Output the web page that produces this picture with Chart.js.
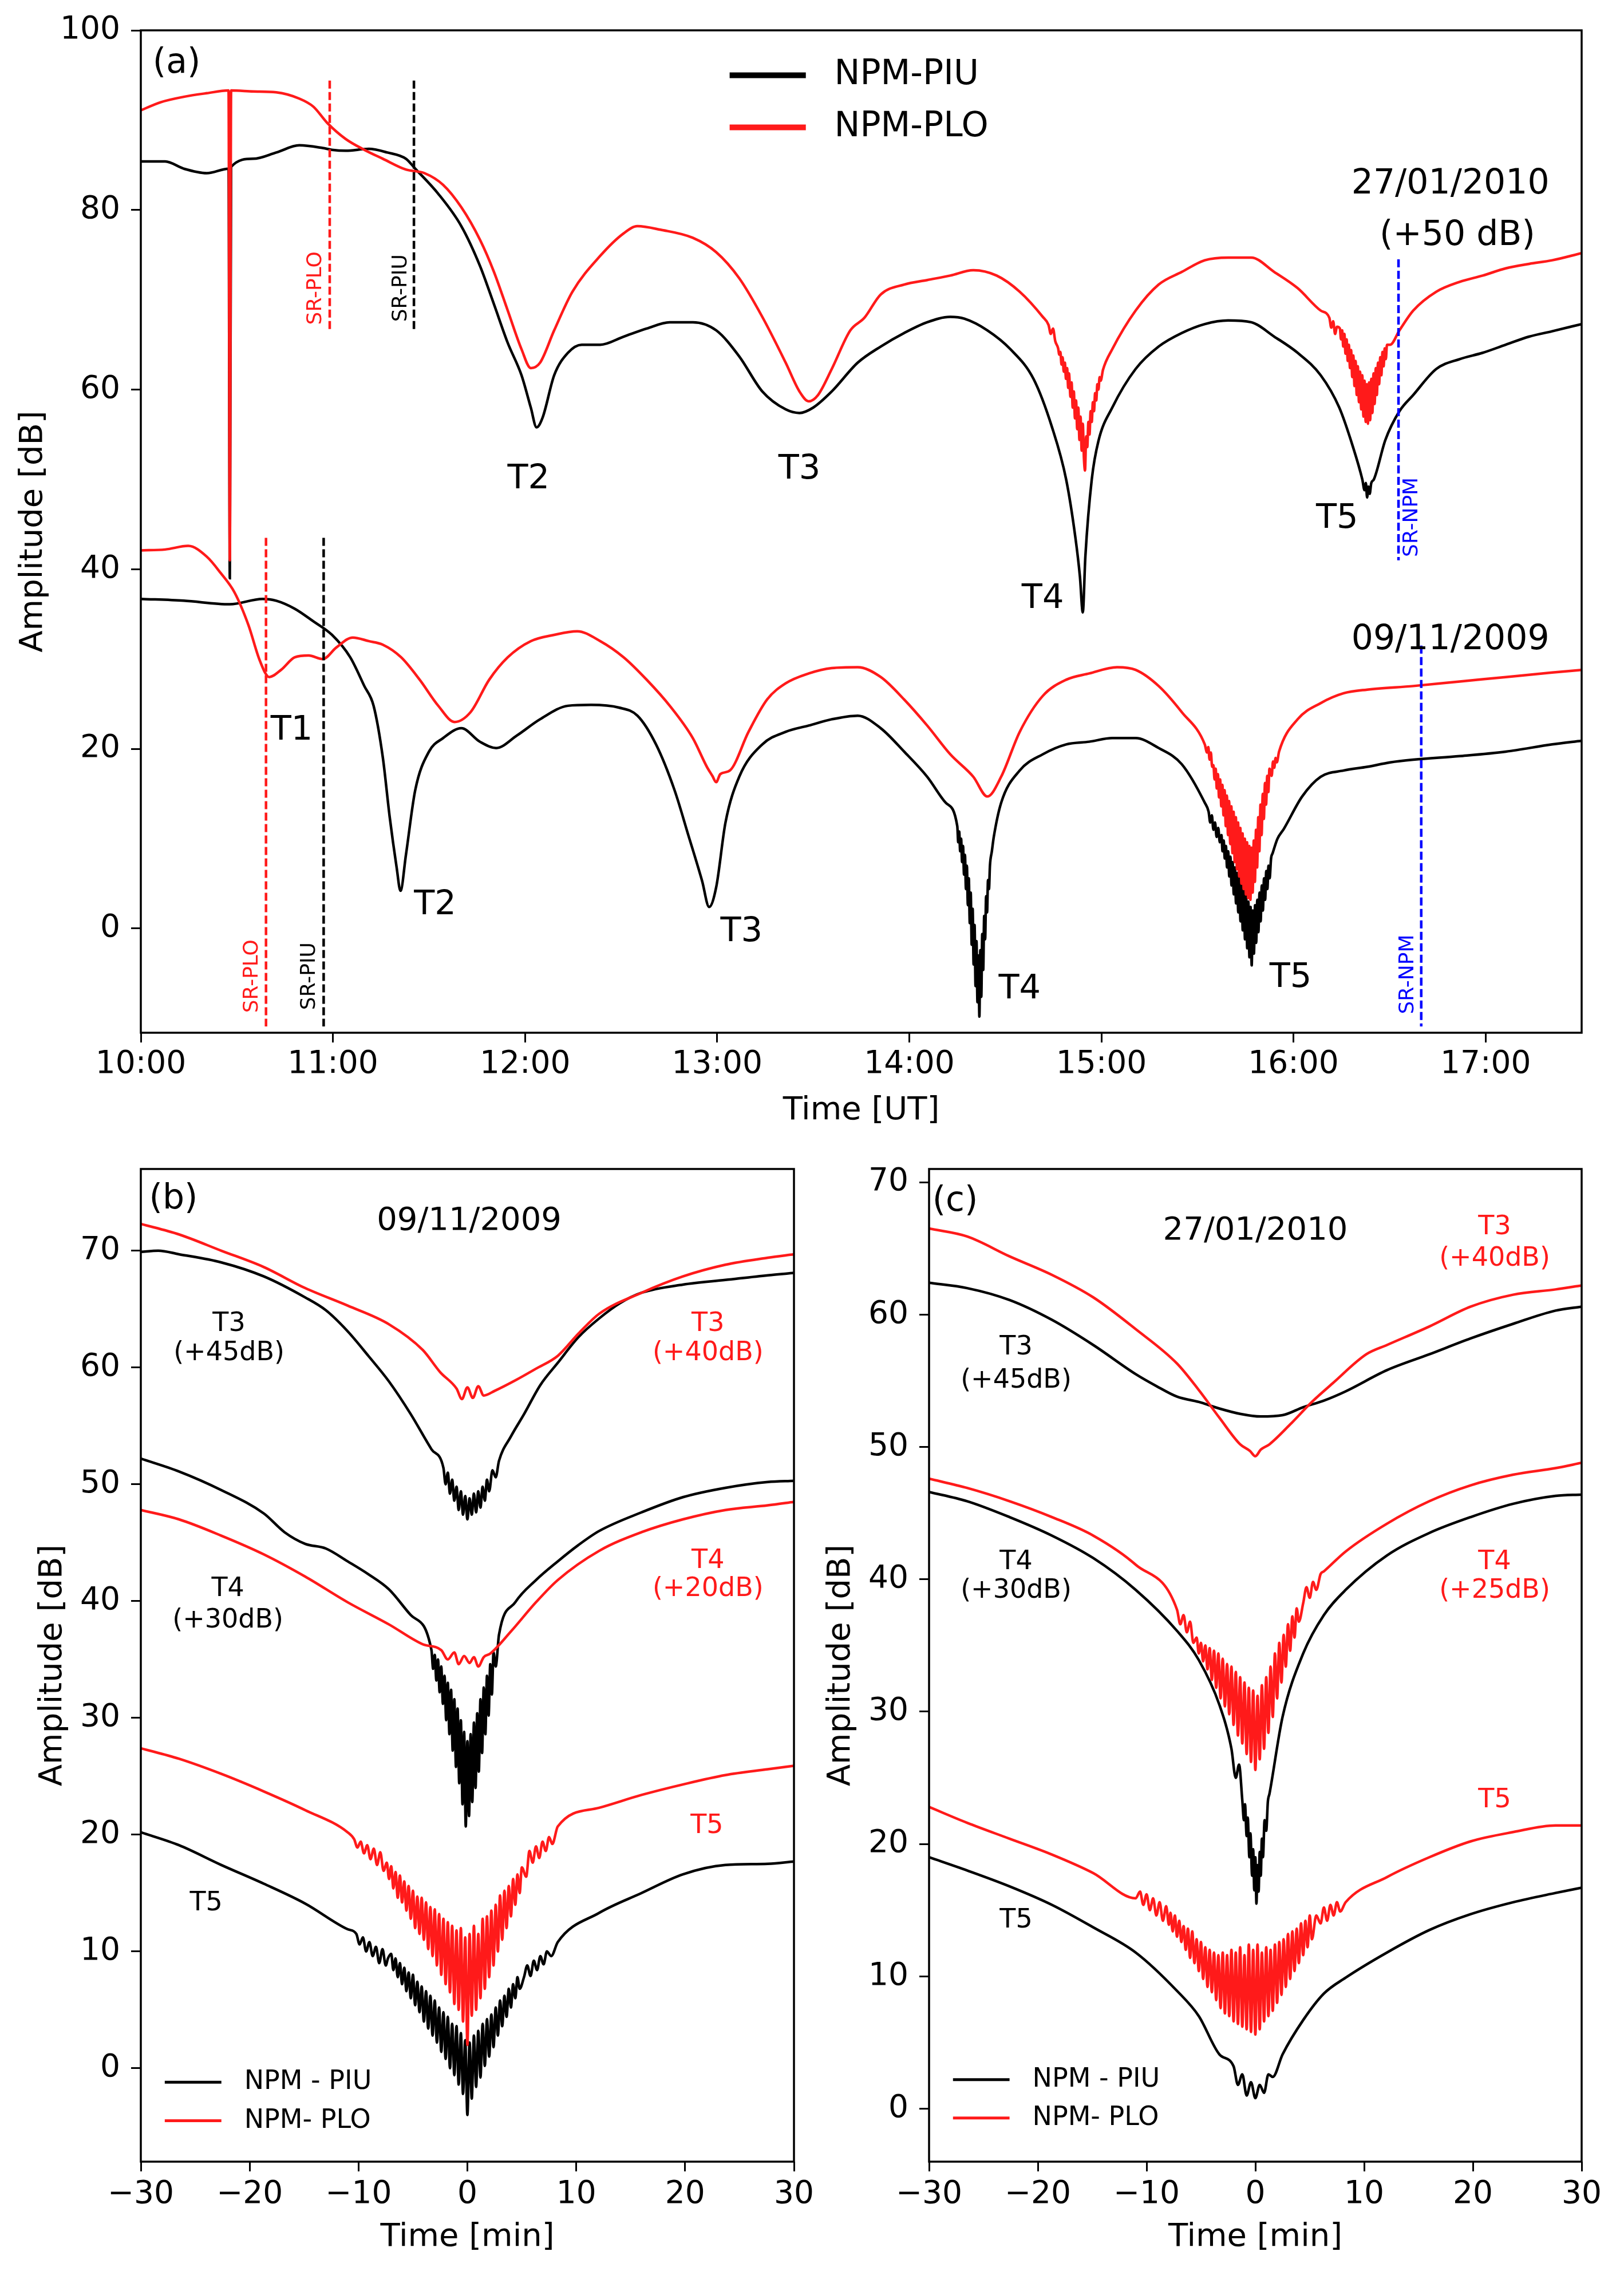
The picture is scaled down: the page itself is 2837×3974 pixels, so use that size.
<!DOCTYPE html>
<html>
<head>
<meta charset="utf-8">
<title>NPM-PIU / NPM-PLO amplitude</title>
<script src="https://cdn.jsdelivr.net/npm/chart.js@4.4.1/dist/chart.umd.min.js"></script>
<style>
  html, body { margin: 0; padding: 0; background: #fff; }
  body { width: 2837px; height: 3974px; position: relative; overflow: hidden; }
  .panel { position: absolute; }
  .panel canvas { display: block; }
</style>
</head>
<body>
<div class="panel" style="left:0;top:0;width:2837px;height:1990px"><canvas id="chartA"></canvas></div>
<div class="panel" style="left:0;top:1990px;width:1450px;height:1984px"><canvas id="chartB"></canvas></div>
<div class="panel" style="left:1400px;top:1990px;width:1437px;height:1984px"><canvas id="chartC"></canvas></div>
<script>
// ---- panel (a): [minutes after 10:00 UT, amplitude dB] ----
const janPiu = [[0,85.4],[7.6,85.4],[13.4,84.6],[20.6,84.1],[27.4,84.6],[27.8,39.0],[28.2,84.8],[35.1,85.7],[42.3,86.4],[49.5,87.2],[56.8,86.9],[59.7,86.7],[64,86.6],[71.2,86.8],[77,86.4],[82.8,85.7],[85.7,84.6],[92.9,81.8],[100.1,78.2],[105.9,73.8],[110.3,69.5],[114.6,65.2],[118.9,61.6],[121.8,58],[123.6,55.8],[125.5,56.9],[129.1,61.6],[133.4,64.1],[137.7,65],[143.5,65],[150.8,65.9],[158,66.8],[165.2,67.5],[172.4,67.5],[179.7,66.6],[186.9,63.7],[194.1,59.8],[201.4,57.8],[205.7,57.4],[210,58],[215.8,59.8],[223.9,63],[231.1,64.8],[238.4,66.3],[245.6,67.5],[252.8,68.1],[257.2,67.9],[264.4,66.6],[271.6,64.5],[278.8,61.2],[284.6,55.8],[289,50],[291.9,43.5],[293.3,39.2],[294.2,35.2],[295,41.4],[297,50],[299.1,54.3],[303.4,58],[310.7,62.3],[317.9,64.8],[325.1,66.3],[332.3,67.3],[339.6,67.7],[346.8,67.5],[354,65.9],[361.3,64.1],[368.5,61.6],[374.3,58],[378.6,53.6],[381.5,50],[382.2,48.8],[382.6,49.6],[383,48],[383.4,49.2],[383.8,48.4],[384.3,49.6],[385.1,50],[388.7,54.4],[393.1,57.6],[397.4,59.4],[404.6,62.3],[411.9,63.4],[419.1,64.1],[426.3,65],[433.6,65.9],[440.8,66.5],[450,67.3]];

const janPlo = [[0,91.1],[6.2,92],[13.4,92.6],[20.6,93],[27.4,93.3],[27.8,41.0],[28.2,93.3],[35.1,93.2],[42.3,93.1],[49.5,92.4],[53.9,91.5],[58.2,89.7],[64,87.9],[69.8,86.7],[75.6,85.7],[82.8,84.5],[88.6,84.1],[94.4,82.8],[100.1,80.3],[105.9,76.7],[110.3,73.1],[114.6,68.8],[118.9,64.5],[121.8,62.4],[124.7,63],[129.1,66.6],[134.8,70.9],[143.5,74.9],[150.8,77.4],[155.1,78.2],[162.3,77.8],[172.4,76.9],[179.7,75.3],[186.9,72.4],[194.1,68.1],[201.4,63],[205.7,59.8],[208.6,58.7],[211.5,59.4],[215.8,62.3],[221.6,66.6],[226,68],[231.1,70.6],[238.4,71.7],[245.6,72.2],[252.8,72.7],[260,73.3],[267.3,72.7],[274.5,70.9],[281.7,68.1],[283.5,67.2],[284.2,66.2],[284.9,66.8],[285.6,65.4],
  [286.5,64.6],[286.85,63.9],[287.2,64.2],[287.55,62.8],[287.9,63.6],[288.25,62],[288.6,63],[288.95,61.2],[289.3,62.4],[289.65,60.2],[289.9,61.8],[290.35,59.2],[290.7,60.8],[291.05,58],[291.4,59.8],[291.75,56.8],[292.1,58.8],[292.45,55.6],[292.8,58],[293.15,54.4],[293.5,57],[293.85,53.2],[294.2,56.2],[294.55,52.4],[294.9,51],[295.25,54.8],[295.6,53.6],[295.95,56.4],[296.3,55],[296.65,57.6],[297,56.4],[297.35,58.6],[297.7,57.6],[298.05,59.6],[298.4,58.8],[298.75,60.6],[299.1,60],[299.45,61.4],[299.8,61],[300.5,62.2],
  [303.4,64.5],[310.7,68.8],[317.9,71.7],[325.1,73.1],[332.3,74.4],[339.6,74.7],[346.8,74.7],[354,73.1],[361.3,71.3],[368.5,68.8],[371.2,68],[371.8,66.9],[372.4,67.6],[373,66.2],[373.6,67],
  [374.5,66.8],[374.85,65.6],[375.2,66.6],[375.55,64.8],[375.9,66.2],[376.25,64],[376.6,65.6],[376.95,63.2],[377.3,65],[377.65,62.4],[378,64.4],[378.35,61.4],[378.7,63.8],[379.05,60.4],[379.4,63.2],[379.75,59.4],[380.1,62.6],[380.45,58.6],[380.8,62],[381.15,57.8],[381.5,61.6],[381.85,57],[382.2,61],[382.55,56.4],[382.9,60.6],[383.25,56.2],[383.6,60.8],[383.95,56.6],[384.3,61.2],[384.65,57.4],[385,61.8],[385.35,58.4],[385.7,62.4],[386.05,59.4],[386.4,63],[386.75,60.6],[387.1,63.6],[387.45,61.6],[387.8,64.2],[388.15,62.6],[388.5,64.6],[388.85,63.4],[389.2,65],[390.2,65],
  [393.1,66.6],[397.4,68.8],[404.6,70.9],[411.9,72],[419.1,72.7],[426.3,73.5],[433.6,74],[440.8,74.4],[450,75.2]];

const novPiu = [[0,36.7],[13.4,36.5],[27.8,36.1],[38,36.7],[42.3,36.5],[48.1,35.6],[53.9,34.2],[59.7,32.7],[65.4,30.2],[69.8,27],[72.7,24.8],[75.6,19],[77.7,12.5],[79.9,6.8],[81.1,4.2],[82.8,8.2],[85.7,15.4],[90,19.7],[94.4,21.2],[100.1,22.3],[105.9,20.8],[111,20.1],[117.5,21.5],[124.7,23.3],[133.4,24.8],[140.6,24.9],[149.3,24.6],[155.1,23.7],[160.9,20.5],[166.7,15.4],[171,10.4],[175.3,5.3],[177.5,2.4],[179.7,4.6],[182.6,11.8],[186.9,16.9],[194.1,20.5],[201.4,21.9],[208.6,22.6],[215.8,23.3],[223.9,23.7],[231.1,22.3],[238.4,19.7],[245.6,16.9],[251.4,14],
  [255,11.4],[255.3,9.6],[255.6,10.8],[255.9,8.6],[256.2,10],[256.5,7.4],[256.8,9.2],[257.1,6],[257.4,8.2],[257.7,4.4],[258,7],[258.3,2.6],[258.6,5.6],[258.9,0.6],[259.2,4],[259.5,-1.8],[259.8,2.2],[260.1,-4],[260.4,0.4],[260.7,-6.4],[261,-1.4],[261.3,-8.2],[261.6,-3],[261.9,-9.8],[262.2,-2.4],[262.5,-7.6],[262.8,-0.6],[263.1,-4.6],[263.4,1.4],[263.7,-1.2],[264,3.6],[264.3,1.8],[264.6,5.4],[264.9,4.4],[265.2,7],[265.8,8.6],[266.4,10.2],
  [268.7,14],[274.5,17.6],[281.7,19.4],[289,20.5],[296.2,20.8],[303.4,21.2],[310.7,21.2],[317.9,20.1],[325.1,18.3],[332.3,14],[333.5,13],[334,11.8],[334.5,12.6],[335,11],[335.5,11.8],[336,10.2],[336.5,11.2],[337,9.6],
  [337.5,10.4],[337.85,8.6],[338.2,9.8],[338.55,7.8],[338.9,9.2],[339.25,6.8],[339.6,8.6],[339.95,5.8],[340.3,8],[340.65,4.8],[341,7.4],[341.35,3.8],[341.7,6.8],[342.05,2.8],[342.4,6.2],[342.75,1.8],[343.1,5.6],[343.45,0.8],[343.8,5],[344.15,-0.2],[344.5,4.4],[344.85,-1.2],[345.2,3.8],[345.55,-2.2],[345.9,3],[346.25,-3.2],[346.6,2.4],[346.95,-4.1],[347.3,2],[347.65,-2.8],[348,2.6],[348.35,-1.6],[348.7,3.2],[349.05,-0.4],[349.4,4],[349.75,0.8],[350.1,4.8],[350.45,2],[350.8,5.6],[351.15,3.2],[351.5,6.4],[351.85,4.4],[352.2,7],[352.55,5.6],[353,7.8],[353.5,8.4],[355,10],
  [357,11.1],[362.7,14.7],[368.5,16.9],[375.7,17.6],[383,18],[390.2,18.5],[397.4,18.8],[411.9,19.2],[426.3,19.7],[440.8,20.5],[450,20.9]];

const novPlo = [[0,42.1],[7.6,42.2],[14.8,42.6],[20.6,41.4],[24.9,39.6],[29.3,37.4],[33.6,33.8],[37.2,29.8],[40.1,28],[43.8,28.8],[48.1,30.2],[52.4,30.4],[56.8,30],[61.1,31.3],[66.2,32.4],[71.2,32],[75.6,31.6],[81.3,30.2],[87.1,27.7],[92.9,24.8],[98,23],[103,24.1],[108.8,27.7],[114.6,30.2],[121.8,32],[129.1,32.7],[136.3,33.1],[143.5,32],[150.8,30.2],[158,27.7],[165.2,24.8],[172.4,21.2],[176.8,18],[178.5,17],[179.7,16.3],[181,17.2],[184,17.6],[189.8,21.9],[195.6,25.5],[201.4,27.3],[208.6,28.4],[215.8,29],[223.9,29.1],[231.1,28],[238.4,25.5],[245.6,22.6],[252.8,19.4],[260,16.9],[264.4,14.7],[268.7,16.9],[274.5,21.9],[281.7,25.9],[289,27.7],[296.2,28.4],[304.9,29.1],[310.7,28.8],[317.9,27],[325.1,24.1],[332.3,20.5],[333,19.6],[333.4,20.2],[333.8,18.8],[334.2,19.6],[334.6,18],
  [335,18.2],[335.35,16.6],[335.7,17.8],[336.05,15.6],[336.4,17.2],[336.75,14.6],[337.1,16.6],[337.45,13.6],[337.8,16],[338.15,12.6],[338.5,15.4],[338.85,11.4],[339.2,14.8],[339.55,10.4],[339.9,14.2],[340.25,9.4],[340.6,13.6],[340.95,8.4],[341.3,13],[341.65,7.4],[342,12.4],[342.35,6.6],[342.7,11.8],[343.05,5.8],[343.4,11.2],[343.75,5],[344.1,10.6],[344.45,4.4],[344.8,10],[345.15,3.8],[345.5,9.6],[345.85,3.4],[346.2,9.2],[346.55,3.2],[346.9,9],[347.25,4],[347.6,9.8],[347.95,5.2],[348.3,11],[348.65,6.8],[349,12.4],[349.35,8.6],[349.7,13.8],[350.05,10.4],[350.4,15],[350.75,12.2],[351.1,16.2],[351.45,13.8],[351.8,17],[352.15,15.2],[352.5,17.8],[353.2,17],[353.6,18.6],[354,17.9],[354.4,19],[354.8,18.5],
  [355.5,19.7],[361.3,23.3],[368.5,25.1],[375.7,26.2],[383,26.6],[397.4,27],[411.9,27.5],[426.3,28],[440.8,28.5],[450,28.8]];

// sunrise markers (a): time, top and bottom of each dashed line
const srMin = [59.0, 85.3, 39.1, 57.1, 392.8, 399.9];
const srTopDb = [94.4, 94.4, 43.5, 43.5, 74.5, 31.5];
const srBottomDb = [66.6, 66.6, -10.9, -10.9, 41.0, -10.9];

// ---- panel (b) 09/11/2009: [minutes around terminator, dB] ----
const bT3Piu = [[-30,69.9],[-28.4,70],[-26.5,69.7],[-22.6,69],[-18.7,67.8],[-14.9,66],[-13,64.9],[-11,63.1],[-9.1,61],[-7.2,58.8],[-5.2,56],[-3.3,53],
  [-2.2,51.4],[-2,50],[-1.8,51],[-1.6,49.2],[-1.4,50.4],[-1.2,48.6],[-1,49.8],[-0.8,47.8],[-0.6,49.4],[-0.4,47.4],[-0.2,49],[0,47],[0.2,48.8],[0.4,47.4],[0.6,49.2],[0.8,47.6],[1,49.4],[1.2,48],[1.4,49.8],[1.6,48.6],[1.8,50.4],[2,49.4],[2.3,51.2],[2.6,50.6],[2.9,52],
  [4,54.1],[5.2,56],[6.7,58.5],[8.3,60.4],[10.2,62.6],[12.1,64.2],[14,65.5],[16,66.4],[19.8,67.1],[23.7,67.5],[27.6,67.9],[30,68.1]];
const bT3Plo = [[-30,72.3],[-26.5,71.4],[-22.6,70],[-18.7,68.6],[-14.9,66.8],[-11,65.3],[-7.2,63.7],[-4.1,61.5],[-2.5,59.6],[-1,58.2],[-0.5,57.3],[0,58.3],[0.5,57.4],[1,58.4],[1.5,57.6],[2.5,58],[4.4,58.9],[6.3,59.9],[8.3,61],[10.2,62.9],[12.1,64.6],[16,66.4],[19.8,67.8],[23.7,68.8],[27.6,69.4],[30,69.7]];
const bT4Piu = [[-30,52.2],[-26.5,51.1],[-22.6,49.5],[-18.7,47.5],[-16.8,45.9],[-14.9,44.9],[-13,44.5],[-11,43.4],[-9.1,42.3],[-7.2,41],[-5.2,38.8],
  [-3.3,35.8],[-3.15,34.2],[-3,35.4],[-2.85,33.2],[-2.7,35],[-2.55,32.2],[-2.4,34.4],[-2.25,31.2],[-2.1,33.6],[-1.95,29.8],[-1.8,33],[-1.65,28.6],[-1.5,32.4],[-1.35,27.2],[-1.2,31.6],[-1.05,25.8],[-0.9,30.8],[-0.75,24.4],[-0.6,29.8],[-0.45,22.6],[-0.3,28.8],[-0.15,20.7],[0,28],[0.15,21.6],[0.3,28.6],[0.45,22.8],[0.6,29.6],[0.75,24],[0.9,30.4],[1.05,25.4],[1.2,31.6],[1.35,27],[1.5,32.6],[1.65,28.6],[1.8,33.6],[1.95,30.2],[2.1,34.6],[2.25,32],[2.4,35.6],[2.6,34.4],[2.9,37.1],
  [4.4,39.9],[6.3,41.8],[8.3,43.4],[10.2,44.8],[12.1,46],[16,47.6],[19.8,48.9],[23.7,49.7],[27.6,50.2],[30,50.3]];
const bT4Plo = [[-30,47.8],[-26.5,47],[-22.6,45.6],[-18.7,44],[-14.9,42.1],[-11,39.9],[-7.2,38],[-4.1,36.3],[-2.4,35.8],[-1.8,35],[-1.2,35.6],[-0.8,34.6],[-0.3,35.3],[0.2,34.7],[0.6,35.2],[1,34.4],[1.5,35.2],[2.1,35.5],[4,37.4],[6.3,39.9],[8.3,41.8],[12.1,44.3],[16,45.9],[19.8,47],[23.7,47.8],[27.6,48.2],[30,48.5]];
const bT5Plo = [[-30,27.4],[-26.5,26.5],[-22.6,25.2],[-18.7,23.7],[-14.9,22.1],[-11,20.2],
  [-10.4,19.6],[-10.1,18.9],[-9.8,19.4],[-9.5,18.4],[-9.2,19.1],[-8.9,17.9],[-8.6,18.8],[-8.3,17.4],[-8,18.5],[-7.7,16.9],
  [-7.4,17.6],[-7.2,16.2],[-7,17.3],[-6.8,15.4],[-6.6,16.8],[-6.4,14.6],[-6.2,16.5],[-6,14.2],[-5.8,16],[-5.6,13.5],[-5.4,15.6],[-5.2,12.8],[-5,15.2],[-4.8,12],[-4.6,14.7],[-4.4,11.5],[-4.2,14.6],[-4,11],[-3.8,14.2],[-3.6,10.2],[-3.4,13.8],[-3.2,9.6],[-3,13.6],[-2.8,8.8],[-2.6,13.2],[-2.4,8],[-2.2,12.8],[-2,7.2],[-1.8,12.5],[-1.6,6.5],[-1.4,12.2],[-1.2,5.5],[-1,11.8],[-0.8,5],[-0.6,12],[-0.4,4],[-0.2,11.2],[0,2],[0.2,11.5],[0.4,4.5],[0.6,12.2],[0.8,5],[1,11.5],[1.2,6],[1.4,12.8],[1.6,6.8],[1.8,13],[2,7.8],[2.2,13.5],[2.4,8.8],[2.6,14],[2.8,10],[3,14.8],[3.2,11],[3.4,15.2],[3.6,12],[3.8,15.6],[4,13],[4.2,16.2],[4.4,14],[4.6,16.6],[4.8,15],[5,17.2],[5.4,16.4],
  [5.7,18.6],[6,17.6],[6.3,19],[6.6,18],[6.9,19.4],[7.2,18.6],[7.5,19.8],[7.8,19.2],
  [8.3,20.7],[12.1,22.3],[16,23.4],[19.8,24.3],[23.7,25.1],[27.6,25.6],[30,25.9]];
const bT5Piu = [[-30,20.2],[-26.5,19.1],[-22.6,17.4],[-18.7,15.8],[-14.9,14.1],[-11,11.9],
  [-10.2,11.5],[-9.9,10.6],[-9.6,11.2],[-9.3,10],[-9,10.8],[-8.7,9.6],[-8.4,10.4],[-8.1,9],[-7.8,10.2],[-7.5,8.8],[-7.3,9.4],
  [-7,9.8],[-6.8,8.4],[-6.6,9.4],[-6.4,7.8],[-6.2,9],[-6,7.2],[-5.8,8.6],[-5.6,6.6],[-5.4,8.2],[-5.2,6],[-5,8],[-4.8,5.4],[-4.6,7.4],[-4.4,4.8],[-4.2,7],[-4,4],[-3.8,6.6],[-3.6,3.4],[-3.4,6.2],[-3.2,2.8],[-3,5.8],[-2.8,2.2],[-2.6,5.2],[-2.4,1.4],[-2.2,4.8],[-2,0.8],[-1.8,4.4],[-1.6,0],[-1.4,3.8],[-1.2,-0.6],[-1,3.6],[-0.8,-1.4],[-0.6,3],[-0.4,-2.2],[-0.2,2.4],[0,-4],[0.2,2.2],[0.4,-2.6],[0.6,2.8],[0.8,-1.6],[1,3.2],[1.2,-0.8],[1.4,3.8],[1.6,0.2],[1.8,4.2],[2,1],[2.2,4.6],[2.4,1.8],[2.6,5.2],[2.8,2.8],[3,5.8],[3.2,3.6],[3.4,6.2],[3.6,4.4],[3.8,6.8],[4,5.2],[4.2,7.2],[4.4,6],[4.6,7.8],[4.8,6.8],[5.2,7.8],
  [5.5,8.8],[5.8,7.9],[6.1,9.2],[6.4,8.4],[6.7,9.6],[7,8.9],[7.3,10],[7.7,9.6],
  [8.3,10.8],[12.1,13.3],[16,15],[19.8,16.6],[23.7,17.4],[27.6,17.5],[30,17.7]];

// ---- panel (c) 27/01/2010 ----
const cT3Piu = [[-30,62.4],[-26.5,62],[-22.6,61.1],[-18.7,59.6],[-14.9,57.7],[-11,55.5],[-9.1,54.6],[-7.2,53.8],[-5.2,53.4],[-3.3,52.9],[-1.4,52.5],[0.5,52.3],[2.5,52.4],[4.4,53],[6.3,53.5],[8.3,54.2],[12.1,55.8],[16,57],[19.8,58.2],[23.7,59.3],[27.6,60.3],[30,60.6]];
const cT3Plo = [[-30,66.5],[-26.5,65.9],[-22.6,64.4],[-18.7,63],[-14.9,61.3],[-11,58.9],[-7.2,56.3],[-5.2,54.3],[-3.3,52.2],[-1.4,50.2],[-0.5,49.7],[0,49.3],[0.5,49.8],[1.3,50.2],[3.2,51.7],[5.2,53.4],[7.1,54.8],[10.2,57],[12.1,57.7],[16,59.1],[19.8,60.6],[23.7,61.5],[27.6,61.9],[30,62.2]];
const cT4Plo = [[-30,47.6],[-26.5,46.9],[-22.6,45.9],[-18.7,44.7],[-14.9,43.3],[-11,41.1],[-7.2,37.7],[-6.9,36.6],[-6.6,37.3],[-6.3,36],[-6,36.8],[-5.7,35.2],
  [-5.4,35.6],[-5.2,34.4],[-5,35.2],[-4.8,33.8],[-4.6,35],[-4.4,33.2],[-4.2,34.8],[-4,32.4],[-3.8,34.6],[-3.6,31.8],[-3.4,34.4],[-3.2,31],[-3,34],[-2.8,30.4],[-2.6,33.6],[-2.4,29.8],[-2.2,33.4],[-2,29],[-1.8,33],[-1.6,28.2],[-1.4,32.6],[-1.2,27.6],[-1,32.2],[-0.8,26.8],[-0.6,31.8],[-0.4,26.2],[-0.2,31.6],[0,25.6],[0.2,31.2],[0.4,26.4],[0.6,32],[0.8,27.2],[1,32.6],[1.2,28.4],[1.4,33.4],[1.6,29.6],[1.8,34.4],[2,31],[2.2,35.2],[2.4,32.2],[2.6,35.8],[2.8,33.4],[3,36.6],[3.2,34.6],[3.4,37.2],[3.6,35.6],[3.8,37.8],[4,36.8],[4.4,38.2],
  [4.7,39.4],[5,38.6],[5.3,39.8],[5.6,39.2],[6,40.4],[6.3,40.6],[8.3,42.1],[12.1,44.2],[16,45.9],[19.8,47.1],[23.7,47.9],[27.6,48.4],[30,48.8]];
const cT4Piu = [[-30,46.6],[-26.5,45.9],[-22.6,44.7],[-18.7,43.3],[-14.9,41.6],[-11,39.2],[-7.2,36.1],[-5.2,33.9],[-3.3,30.5],[-2.2,27.2],[-1.8,25],[-1.5,26],
  [-1.2,23.3],[-1.05,21.8],[-0.95,23],[-0.8,20.6],[-0.7,22],[-0.55,19],[-0.45,20.8],[-0.3,17.6],[-0.2,19.6],[-0.1,16.5],[0,19],[0.1,15.5],[0.2,18.4],[0.3,16.4],[0.4,19.4],[0.5,17.6],[0.6,20.4],[0.7,19],[0.85,21.8],[1,21],[1.15,23.2],[1.3,23.8],
  [2.5,29.6],[4.4,34.4],[6.3,37.3],[8.3,39.2],[12.1,41.8],[16,43.5],[19.8,44.7],[23.7,45.7],[27.6,46.3],[30,46.4]];
const cT5Plo = [[-30,22.8],[-26.5,21.6],[-22.6,20.4],[-18.7,19.2],[-14.9,17.8],[-11,15.9],
  [-10.6,16.4],[-10.3,15.4],[-10,16.2],[-9.7,15],[-9.4,15.9],[-9.1,14.6],[-8.8,15.6],[-8.5,14.2],[-8.2,15.3],[-7.95,13.9],
  [-7.8,14.8],[-7.6,13.4],[-7.4,14.6],[-7.2,13],[-7,14.2],[-6.8,12.6],[-6.6,13.8],[-6.4,12],[-6.2,13.6],[-6,11.4],[-5.8,13.4],[-5.6,11],[-5.4,12.8],[-5.2,10.4],[-5,12.6],[-4.8,9.8],[-4.6,12.2],[-4.4,9.2],[-4.2,12],[-4,8.8],[-3.8,11.8],[-3.6,8.2],[-3.4,11.6],[-3.2,7.6],[-3,11.8],[-2.8,7.2],[-2.6,11.6],[-2.4,7],[-2.2,12],[-2,6.6],[-1.8,11.8],[-1.6,6.4],[-1.4,12.2],[-1.2,6.2],[-1,11.6],[-0.8,6],[-0.6,12.4],[-0.4,5.8],[-0.2,12],[0,5.6],[0.2,12.4],[0.4,6],[0.6,11.8],[0.8,6.6],[1,12.2],[1.2,7],[1.4,12],[1.6,7.4],[1.8,12.4],[2,8],[2.2,12.6],[2.4,8.6],[2.6,12.8],[2.8,9.2],[3,13.2],[3.2,9.8],[3.4,13.4],[3.6,10.4],[3.8,13.6],[4,11],[4.2,14],[4.4,11.6],[4.6,14.2],[4.8,12.2],[5,14.6],[5.2,12.8],[5.6,14.6],[6,14],
  [6.3,15.2],[6.6,14.2],[6.9,15.4],[7.2,14.6],[7.5,15.6],[7.8,14.9],
  [8.3,15.6],[12.1,17.5],[16,19],[19.8,20.2],[23.7,20.9],[27.6,21.4],[30,21.4]];
const cT5Piu = [[-30,19],[-26.5,18],[-22.6,16.8],[-18.7,15.4],[-14.9,13.7],[-11,11.8],[-7.2,8.9],[-5.2,7],[-3.3,4.1],[-2,3.2],[-1.6,1.8],[-1.2,2.6],[-0.8,1],[-0.4,2],[0,0.8],[0.4,1.8],[0.8,1.2],[1.2,2.6],[1.6,2.4],[2.5,4.1],[4.4,6.7],[6.3,8.7],[8.3,9.9],[12.1,11.8],[16,13.5],[19.8,14.7],[23.7,15.6],[27.6,16.3],[30,16.7]];

const FONT = 'DejaVu Sans';
const BLACK = '#000000';
const RED = '#ff1a1a';
const BLUE = '#0000ff';
Chart.defaults.font.family = FONT;

function series(points, color) {
  return {
    data: points.map(p => ({ x: p[0], y: p[1] })),
    borderColor: color, borderWidth: 4.5, pointRadius: 0,
    cubicInterpolationMode: 'monotone', fill: false
  };
}

function srLine(i, color) {
  return {
    data: [{ x: srMin[i], y: srTopDb[i] }, { x: srMin[i], y: srBottomDb[i] }],
    borderColor: color, borderWidth: 4.5, borderDash: [14, 6], pointRadius: 0, fill: false
  };
}

const minusFmt = v => (v < 0 ? '\u2212' + (-v) : String(v));

function axes(o) {
  const tickFont = { family: FONT, size: 55 };
  const grid = { display: true, drawOnChartArea: false, drawTicks: true, tickLength: 17, tickWidth: 3, tickColor: BLACK };
  return {
    x: {
      type: 'linear', min: o.xMin, max: o.xMax,
      afterFit: s => { s.height = o.xH; },
      border: { display: false }, grid,
      ticks: { stepSize: o.xStep, includeBounds: false, autoSkip: false, maxRotation: 0, minRotation: 0,
               padding: o.xPad, color: BLACK, font: tickFont, callback: o.xFmt }
    },
    y: {
      type: 'linear', min: o.yMin, max: o.yMax,
      afterFit: s => { s.width = o.yW; },
      border: { display: false }, grid,
      ticks: { stepSize: o.yStep, includeBounds: false, autoSkip: false, padding: 19, color: BLACK, font: tickFont }
    }
  };
}

// texts, legend, frame and axis titles
function overlay(cfg) {
  return {
    id: 'overlay',
    afterDraw(chart) {
      const { ctx, chartArea: a } = chart;
      const sx = chart.scales.x, sy = chart.scales.y;
      ctx.save();
      ctx.textBaseline = 'middle';

      cfg.texts.forEach(d => {
        ctx.save();
        ctx.translate(sx.getPixelForValue(d.x), sy.getPixelForValue(d.y));
        if (d.rot) ctx.rotate(-Math.PI / 2);
        ctx.font = `${d.size}px "${FONT}"`;
        ctx.fillStyle = d.color || BLACK;
        ctx.textAlign = 'center';
        ctx.fillText(d.text, 0, 0);
        ctx.restore();
      });

      const lg = cfg.legend;
      lg.items.forEach(it => {
        const yy = sy.getPixelForValue(it.y);
        ctx.strokeStyle = it.color;
        ctx.lineWidth = lg.width;
        ctx.beginPath();
        ctx.moveTo(sx.getPixelForValue(lg.x0), yy);
        ctx.lineTo(sx.getPixelForValue(lg.x1), yy);
        ctx.stroke();
        ctx.font = `${lg.size}px "${FONT}"`;
        ctx.fillStyle = BLACK;
        ctx.textAlign = 'left';
        ctx.fillText(it.text, sx.getPixelForValue(lg.tx), yy);
      });

      ctx.strokeStyle = BLACK;
      ctx.lineWidth = 3.5;
      ctx.strokeRect(a.left, a.top, a.right - a.left, a.bottom - a.top);

      ctx.font = `56px "${FONT}"`;
      ctx.fillStyle = BLACK;
      ctx.textAlign = 'center';
      ctx.fillText(cfg.xTitle, (a.left + a.right) / 2, cfg.xTitleY);
      ctx.save();
      ctx.translate(cfg.yTitleX, (a.top + a.bottom) / 2);
      ctx.rotate(-Math.PI / 2);
      ctx.fillText('Amplitude [dB]', 0, 0);
      ctx.restore();
      ctx.restore();
    }
  };
}

const baseOptions = {
  responsive: true, maintainAspectRatio: false, animation: false, events: [],
  plugins: { legend: { display: false }, tooltip: { enabled: false } }
};

// ---------- panel (a) ----------
new Chart(document.getElementById('chartA'), {
  type: 'line',
  data: {
    datasets: [
      srLine(0, RED), srLine(1, BLACK), srLine(2, RED), srLine(3, BLACK), srLine(4, BLUE), srLine(5, BLUE),
      series(janPlo, RED), series(novPlo, RED),
      series(janPiu, BLACK), series(novPiu, BLACK)
    ]
  },
  options: {
    ...baseOptions,
    layout: { padding: { top: 53, right: 74, left: 0, bottom: 0 } },
    scales: axes({ xMin: 0, xMax: 450, xStep: 60, xH: 186, xPad: 6, yMin: -11.6, yMax: 100, yStep: 20, yW: 246,
                   xFmt: v => (10 + v / 60) + ':00' })
  },
  plugins: [overlay({
    xTitle: 'Time [UT]', xTitleY: 1940, yTitleX: 58,
    texts: [
      { text: '(a)', x: 11.2, y: 96.3, size: 60 },
      { text: 'T2', x: 121.1, y: 50.0, size: 59 },
      { text: 'T3', x: 205.7, y: 51.1, size: 59 },
      { text: 'T4', x: 281.7, y: 36.7, size: 59 },
      { text: 'T5', x: 373.6, y: 45.6, size: 59 },
      { text: '27/01/2010', x: 409.0, y: 82.8, size: 60 },
      { text: '(+50 dB)', x: 411.2, y: 77.1, size: 60 },
      { text: '09/11/2009', x: 409.0, y: 32.1, size: 60 },
      { text: 'T1', x: 47.1, y: 22.0, size: 59 },
      { text: 'T2', x: 91.9, y: 2.6, size: 59 },
      { text: 'T3', x: 187.6, y: -0.4, size: 59 },
      { text: 'T4', x: 274.5, y: -6.8, size: 59 },
      { text: 'T5', x: 359.1, y: -5.5, size: 59 },
      { text: 'SR-PLO', x: 54.6, y: 71.3, size: 36, rot: true, color: RED },
      { text: 'SR-PIU', x: 81.3, y: 71.3, size: 36, rot: true },
      { text: 'SR-PLO', x: 34.8, y: -5.3, size: 36, rot: true, color: RED },
      { text: 'SR-PIU', x: 52.7, y: -5.3, size: 36, rot: true },
      { text: 'SR-NPM', x: 397.1, y: 45.8, size: 36, rot: true, color: BLUE },
      { text: 'SR-NPM', x: 395.7, y: -5.1, size: 36, rot: true, color: BLUE }
    ],
    legend: { x0: 183.9, x1: 207.7, tx: 216.6, width: 10, size: 60,
              items: [{ text: 'NPM-PIU', y: 95.0, color: BLACK }, { text: 'NPM-PLO', y: 89.2, color: RED }] }
  })]
});

// ---------- panel (b) ----------
new Chart(document.getElementById('chartB'), {
  type: 'line',
  data: {
    datasets: [
      series(bT3Plo, RED), series(bT4Plo, RED), series(bT5Plo, RED),
      series(bT3Piu, BLACK), series(bT4Piu, BLACK), series(bT5Piu, BLACK)
    ]
  },
  options: {
    ...baseOptions,
    layout: { padding: { top: 37, right: 63, left: 0, bottom: 0 } },
    scales: axes({ xMin: -30, xMax: 30, xStep: 10, xH: 198, xPad: 8, yMin: -8, yMax: 77, yStep: 10, yW: 246, xFmt: minusFmt })
  },
  plugins: [overlay({
    xTitle: 'Time [min]', xTitleY: 1918, yTitleX: 92,
    texts: [
      { text: '(b)', x: -27.0, y: 74.4, size: 60 },
      { text: '09/11/2009', x: 0.16, y: 72.5, size: 56 },
      { text: 'T3', x: -21.9, y: 63.7, size: 46 },
      { text: '(+45dB)', x: -21.9, y: 61.2, size: 46 },
      { text: 'T3', x: 22.1, y: 63.7, size: 46, color: RED },
      { text: '(+40dB)', x: 22.1, y: 61.2, size: 46, color: RED },
      { text: 'T4', x: -22.0, y: 41.0, size: 46 },
      { text: '(+30dB)', x: -22.0, y: 38.3, size: 46 },
      { text: 'T4', x: 22.1, y: 43.4, size: 46, color: RED },
      { text: '(+20dB)', x: 22.1, y: 41.0, size: 46, color: RED },
      { text: 'T5', x: 22.0, y: 20.7, size: 46, color: RED },
      { text: 'T5', x: -24.0, y: 14.1, size: 46 }
    ],
    legend: { x0: -27.8, x1: -22.6, tx: -20.5, width: 5, size: 46,
              items: [{ text: 'NPM - PIU', y: -1.2, color: BLACK }, { text: 'NPM- PLO', y: -4.5, color: RED }] }
  })]
});

// ---------- panel (c) ----------
new Chart(document.getElementById('chartC'), {
  type: 'line',
  data: {
    datasets: [
      series(cT3Plo, RED), series(cT4Plo, RED), series(cT5Plo, RED),
      series(cT3Piu, BLACK), series(cT4Piu, BLACK), series(cT5Piu, BLACK)
    ]
  },
  options: {
    ...baseOptions,
    layout: { padding: { top: 37, right: 74, left: 0, bottom: 0 } },
    scales: axes({ xMin: -30, xMax: 30, xStep: 10, xH: 198, xPad: 8, yMin: -4, yMax: 71, yStep: 10, yW: 223, xFmt: minusFmt })
  },
  plugins: [overlay({
    xTitle: 'Time [min]', xTitleY: 1918, yTitleX: 69,
    texts: [
      { text: '(c)', x: -27.6, y: 68.5, size: 60 },
      { text: '27/01/2010', x: 0.0, y: 66.3, size: 56 },
      { text: 'T3', x: 22.0, y: 66.6, size: 46, color: RED },
      { text: '(+40dB)', x: 22.0, y: 64.2, size: 46, color: RED },
      { text: 'T3', x: -22.0, y: 57.5, size: 46 },
      { text: '(+45dB)', x: -22.0, y: 55.0, size: 46 },
      { text: 'T4', x: -22.0, y: 41.3, size: 46 },
      { text: '(+30dB)', x: -22.0, y: 39.1, size: 46 },
      { text: 'T4', x: 22.0, y: 41.3, size: 46, color: RED },
      { text: '(+25dB)', x: 22.0, y: 39.1, size: 46, color: RED },
      { text: 'T5', x: 22.0, y: 23.3, size: 46, color: RED },
      { text: 'T5', x: -22.0, y: 14.2, size: 46 }
    ],
    legend: { x0: -27.8, x1: -22.6, tx: -20.5, width: 5, size: 46,
              items: [{ text: 'NPM - PIU', y: 2.2, color: BLACK }, { text: 'NPM- PLO', y: -0.7, color: RED }] }
  })]
});
</script>
</body>
</html>
